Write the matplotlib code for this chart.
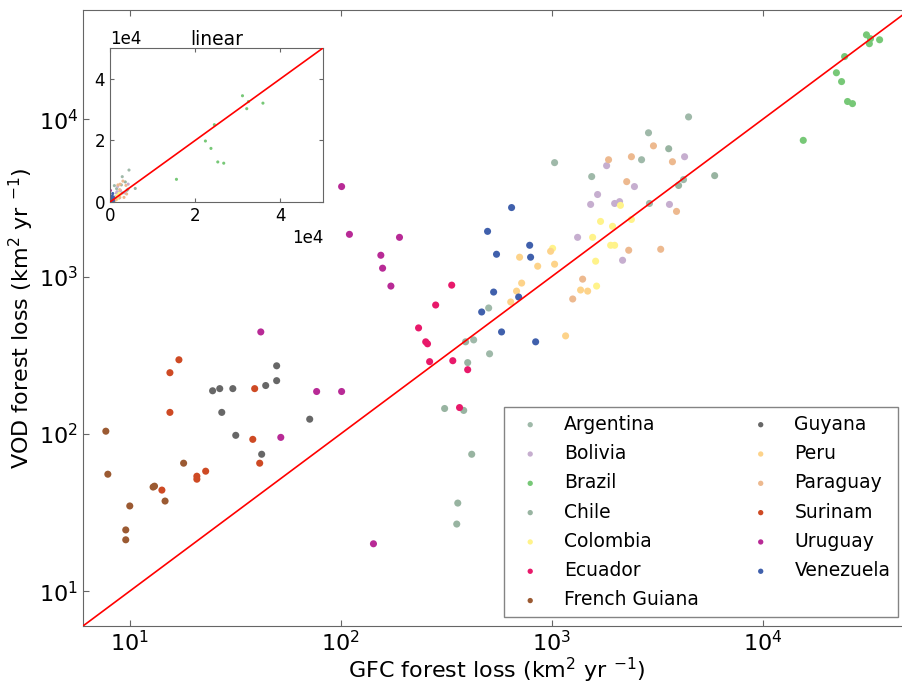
import matplotlib.pyplot as plt
import numpy as np

countries = ['Argentina', 'Bolivia', 'Brazil', 'Chile', 'Colombia', 'Ecuador', 'French Guiana',
             'Guyana', 'Peru', 'Paraguay', 'Surinam', 'Uruguay', 'Venezuela']
colors = ['#9fb9a9', '#c6aecf', '#77c877', '#98b4a1', '#fff38a', '#e8196a', '#9b5a32',
          '#676767', '#fdd38a', '#edb98f', '#ce4a24', '#b82a96', '#4060ac']

# GFC forest loss (x) and VOD forest loss (y), km2 yr-1
gfc = {
    'Argentina': [1033, 2880, 4460, 2670, 1549, 4220, 2910, 503, 427, 508],
    'Bolivia': [4270, 1823, 2470, 1652, 1531, 1990, 2100, 3620, 1328, 2170],
    'Brazil': [31100, 32500, 32100, 35900, 24500, 22400, 23700, 25300, 26700, 15600],
    'Chile': [3590, 5930, 4000, 391, 400, 311, 383, 418, 359, 355],
    'Colombia': [2120, 1706, 2390, 1945, 1565, 1905, 1990, 1011, 1617, 1634],
    'Ecuador': [336, 282, 234, 253, 258, 264, 340, 400, 366],
    'French Guiana': [7.7, 7.87, 10.0, 9.57, 9.57, 12.9, 13.1, 14.7, 18.0],
    'Guyana': [24.7, 26.7, 30.8, 27.3, 31.8, 42.2, 44.1, 49.7, 49.7, 71.3],
    'Peru': [705, 989, 859, 1033, 721, 682, 640, 1165, 1372, 1482],
    'Paraguay': [1862, 2390, 3040, 3740, 2270, 3910, 2320, 3290, 1403, 1259],
    'Surinam': [17.1, 15.5, 15.5, 39.1, 38.3, 41.3, 22.9, 20.8, 20.8, 14.2],
    'Uruguay': [101, 110, 190, 155, 158, 173, 41.8, 76.9, 101, 52.0, 143],
    'Venezuela': [646, 497, 548, 787, 795, 531, 466, 698, 579, 840],
}
vod = {
    'Argentina': [5310, 8220, 10370, 5540, 4330, 4140, 2920, 632, 396, 323],
    'Bolivia': [5790, 5080, 3740, 3330, 2880, 2920, 3000, 2880, 1778, 1271],
    'Brazil': [34500, 32600, 30300, 32100, 25100, 19800, 17400, 13000, 12600, 7360],
    'Chile': [6510, 4390, 3800, 385, 284, 145, 141, 74.2, 36.3, 26.7],
    'Colombia': [2840, 2245, 2310, 2090, 1778, 1583, 1583, 1514, 1254, 871],
    'Ecuador': [883, 660, 472, 385, 374, 288, 292, 256, 147],
    'French Guiana': [104, 55.4, 34.8, 24.5, 21.2, 45.9, 46.5, 37.4, 65.1],
    'Guyana': [188, 194, 194, 137, 97.9, 74.2, 203, 218, 271, 124],
    'Peru': [1329, 1450, 1165, 1200, 910, 809, 690, 420, 822, 809],
    'Paraguay': [5540, 5790, 6790, 5380, 4020, 2600, 1472, 1493, 964, 721],
    'Surinam': [296, 245, 137, 194, 92.3, 65.1, 57.9, 53.8, 51.5, 43.9],
    'Uruguay': [3740, 1858, 1778, 1368, 1132, 871, 445, 186, 186, 95, 20.0],
    'Venezuela': [2750, 1941, 1388, 1583, 1329, 798, 596, 742, 445, 385],
}
lims = [6, 5e4]

fig = plt.figure(figsize=(9.03, 6.84), dpi=100)
ax = fig.add_axes([0.0919, 0.0848, 0.9158, 0.9013])
for c, col in zip(countries, colors):
    ax.scatter(gfc[c], vod[c], s=26, color=col, edgecolors='none', label=c, zorder=2)
ax.plot(lims, lims, color='red', lw=1.2, zorder=3)
ax.set_xscale('log')
ax.set_yscale('log')
ax.set_xlim(lims)
ax.set_ylim(lims)
ax.minorticks_off()
ax.tick_params(which='both', direction='in', top=True, right=True, labelsize=16, length=4, color='0.4')
ax.tick_params(axis='x', pad=3)
for sp in ax.spines.values():
    sp.set_color('0.4')
ax.set_xlabel('GFC forest loss (km$^2$ yr $^{-1}$)', fontsize=16, labelpad=0)
ax.set_ylabel('VOD forest loss (km$^2$ yr $^{-1}$)', fontsize=16, labelpad=2)

leg = ax.legend(ncol=2, loc='lower right', bbox_to_anchor=(0.9855, 0.0146), borderaxespad=0,
                scatterpoints=1, markerscale=0.75, fontsize=13.5, fancybox=False,
                labelspacing=0.55, handletextpad=0.8, columnspacing=2.3, borderpad=0.4)
leg.get_frame().set_edgecolor('0.4')

# inset in linear scale
axin = fig.add_axes([0.1218, 0.7047, 0.2359, 0.2251])
for c, col in zip(countries, colors):
    axin.scatter(gfc[c], vod[c], s=5, color=col, edgecolors='none', zorder=2)
axin.plot([0, lims[1]], [0, lims[1]], color='red', lw=1.2, zorder=3)
axin.set_xlim(0, lims[1])
axin.set_ylim(0, lims[1])
axin.set_xticks([0, 2e4, 4e4])
axin.set_yticks([0, 2e4, 4e4])
axin.ticklabel_format(style='sci', axis='both', scilimits=(0, 0))
axin.tick_params(direction='in', top=True, right=True, labelsize=12, length=3, color='0.4')
axin.xaxis.get_offset_text().set_fontsize(12)
axin.yaxis.get_offset_text().set_fontsize(12)
for sp in axin.spines.values():
    sp.set_color('0.4')
axin.set_title('linear', fontsize=13.5, pad=2)

fig.savefig('out.png', dpi=100)
